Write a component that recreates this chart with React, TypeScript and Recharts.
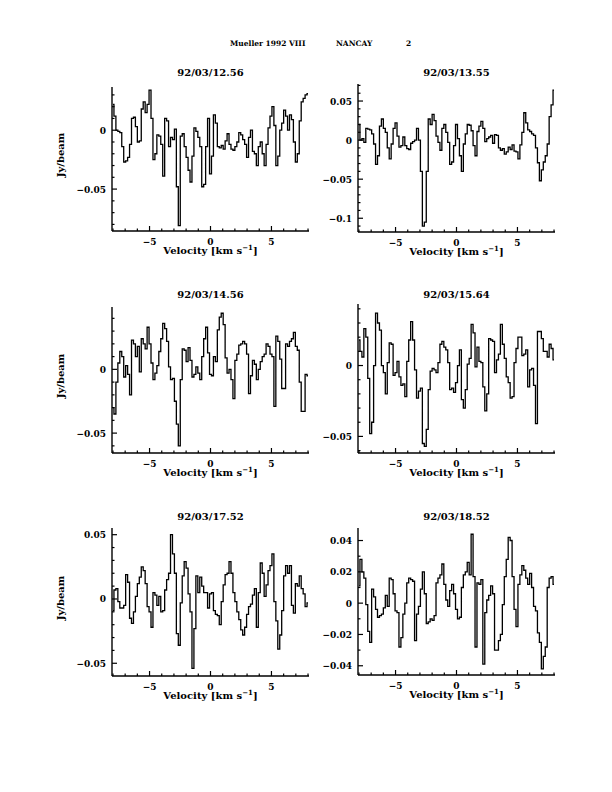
import { LineChart, Line, XAxis, YAxis } from 'recharts';

// channel velocities (km/s)
const VELOCITY = [
  -8.0, -7.84, -7.68, -7.52, -7.36, -7.2, -7.04, -6.88, -6.72, -6.56,
  -6.4, -6.24, -6.08, -5.92, -5.76, -5.6, -5.44, -5.28, -5.12, -4.96,
  -4.8, -4.64, -4.48, -4.32, -4.16, -4.0, -3.84, -3.68, -3.52, -3.36,
  -3.2, -3.04, -2.88, -2.72, -2.56, -2.4, -2.24, -2.08, -1.92, -1.76,
  -1.6, -1.44, -1.28, -1.12, -0.96, -0.8, -0.64, -0.48, -0.32, -0.16,
  0.0, 0.16, 0.32, 0.48, 0.64, 0.8, 0.96, 1.12, 1.28, 1.44,
  1.6, 1.76, 1.92, 2.08, 2.24, 2.4, 2.56, 2.72, 2.88, 3.04,
  3.2, 3.36, 3.52, 3.68, 3.84, 4.0, 4.16, 4.32, 4.48, 4.64,
  4.8, 4.96, 5.12, 5.28, 5.44, 5.6, 5.76, 5.92, 6.08, 6.24,
  6.4, 6.56, 6.72, 6.88, 7.04, 7.2, 7.36, 7.52, 7.68, 7.84,
  8.0,
];

// Jy/beam per channel, one array per date
const flux1256 = [
  0.022, 0.012, 0.0, -0.001, -0.002, -0.014, -0.027, -0.026, -0.023, -0.012,
  0.01, 0.011, 0.003, -0.01, -0.009, 0.018, 0.024, 0.015, 0.022, 0.034,
  0.01, -0.025, -0.02, -0.004, -0.005, -0.012, -0.039, 0.01, 0.008, -0.014,
  -0.006, -0.008, 0.001, -0.048, -0.081, -0.005, -0.003, -0.014, -0.023, -0.034,
  -0.044, -0.022, 0.002, -0.001, -0.006, -0.014, -0.048, -0.046, -0.014, 0.01,
  -0.037, -0.022, 0.013, 0.006, -0.014, -0.015, -0.013, -0.016, -0.009, -0.003,
  -0.012, -0.016, -0.017, -0.014, -0.01, -0.002, -0.004, -0.008, -0.012, -0.023,
  -0.006, 0.0, -0.018, -0.02, -0.03, -0.014, -0.01, -0.02, -0.03, -0.012,
  0.002, 0.012, 0.02, 0.004, -0.03, -0.022, 0.0, 0.006, 0.017, 0.012,
  0.0, 0.013, 0.009, -0.01, -0.027, -0.02, 0.008, 0.024, 0.027, 0.03,
  0.031,
];

const flux1355 = [
  0.02, 0.0, 0.002, -0.003, 0.015, 0.014, 0.013, 0.008, -0.005, -0.031,
  -0.02, 0.018, 0.027, 0.015, 0.01, -0.01, -0.024, -0.005, 0.015, 0.022,
  0.005, -0.009, -0.007, 0.004, -0.007, -0.011, -0.012, -0.004, -0.002, 0.0,
  0.015, 0.0, -0.04, -0.11, -0.105, -0.04, 0.027, 0.02, 0.033, 0.025,
  0.005, -0.003, -0.013, 0.015, 0.02, 0.01, -0.003, -0.031, -0.028, -0.007,
  0.02, 0.002, -0.02, -0.04, -0.005, 0.008, 0.02, 0.019, 0.012, -0.007,
  -0.02, 0.011, 0.018, 0.024, 0.015, -0.002, 0.002, 0.004, 0.006, -0.004,
  0.007, 0.006, -0.01, -0.013, -0.011, -0.018, -0.015, -0.009, -0.012, -0.006,
  -0.014, -0.015, -0.024, -0.006, 0.01, 0.035, 0.022, 0.013, 0.011, 0.008,
  0.006, -0.01, -0.029, -0.052, -0.038, -0.028, -0.02, -0.005, 0.03, 0.045,
  0.064,
];

const flux1456 = [
  -0.03, -0.035, -0.01, 0.005, 0.014, 0.01, -0.006, 0.003, -0.004, -0.02,
  0.023, 0.02, 0.01, 0.018, -0.002, 0.024, 0.02, 0.016, 0.033, 0.02,
  0.005, -0.008, -0.003, 0.003, 0.014, 0.024, 0.036, 0.032, 0.022, 0.002,
  -0.008, -0.007, -0.025, -0.043, -0.06, -0.008, 0.016, 0.015, 0.006, 0.017,
  0.007, -0.006, -0.004, 0.002, -0.003, -0.008, 0.01, 0.024, 0.033, 0.013,
  -0.004, -0.005, 0.01, 0.006, 0.031, 0.041, 0.044, 0.035, 0.009, -0.003,
  0.0, -0.008, -0.023, 0.007, 0.012, 0.019, 0.02, 0.022, 0.02, 0.012,
  -0.019, -0.005, 0.007, 0.004, -0.008, 0.0, 0.006, 0.01, 0.012, 0.02,
  0.018, 0.012, 0.01, -0.029, 0.026, 0.022, 0.008, -0.015, -0.015, 0.02,
  0.018, 0.022, 0.024, 0.029, 0.018, 0.015, -0.01, -0.033, -0.033, -0.004,
  -0.005,
];

const flux1564 = [
  0.018, 0.01, 0.006, 0.026, 0.02, -0.009, -0.048, -0.04, 0.0, 0.037,
  0.03, 0.025, 0.0, -0.005, -0.02, 0.002, 0.016, 0.015, -0.007, -0.005,
  0.003, -0.008, -0.014, -0.013, -0.022, 0.003, 0.018, 0.031, 0.018, -0.003,
  -0.023, -0.018, -0.016, -0.055, -0.057, -0.045, -0.017, -0.004, -0.002, -0.003,
  -0.005, 0.002, 0.015, 0.017, 0.013, 0.011, 0.002, -0.017, -0.016, -0.019,
  -0.012, 0.0, 0.011, -0.024, -0.03, -0.017, 0.001, 0.005, 0.029, 0.023,
  -0.001, 0.013, 0.003, 0.002, -0.015, -0.032, -0.02, 0.019, 0.018, 0.017,
  -0.005, 0.004, 0.008, 0.029, 0.015, 0.005, -0.008, -0.012, -0.023, -0.022,
  0.002, 0.012, 0.02, 0.02, 0.007, 0.008, 0.011, -0.015, -0.003, -0.002,
  -0.014, -0.041, 0.024, 0.024, 0.019, 0.01, 0.01, 0.006, 0.015, 0.012,
  0.004,
];

const flux1752 = [
  -0.009, 0.007, 0.008, -0.002, -0.007, -0.007, -0.005, 0.019, 0.013, -0.015,
  -0.019, -0.01, 0.002, 0.012, 0.017, 0.025, 0.022, 0.012, -0.006, -0.01,
  -0.022, 0.005, 0.003, -0.005, 0.002, -0.01, -0.009, 0.007, 0.015, 0.02,
  0.05, 0.035, 0.02, -0.027, -0.036, -0.003, 0.018, 0.029, 0.024, 0.004,
  -0.01, -0.054, -0.023, 0.018, 0.005, 0.017, 0.01, 0.005, 0.005, -0.007,
  0.004, 0.005, -0.009, -0.012, -0.013, -0.02, -0.002, 0.011, 0.019, 0.02,
  0.029, 0.02, 0.005, -0.002, -0.01, -0.016, -0.024, -0.028, -0.022, -0.012,
  -0.006, -0.004, 0.003, 0.008, -0.022, 0.005, 0.028, 0.02, 0.002, 0.011,
  0.022, 0.026, 0.035, -0.002, -0.017, -0.039, -0.028, -0.009, 0.018, 0.026,
  0.02, 0.026, -0.005, -0.011, 0.012, 0.01, 0.018, 0.008, 0.004, -0.006,
  -0.003,
];

const flux1852 = [
  0.011, 0.028, 0.02, 0.016, -0.001, -0.018, -0.025, 0.009, 0.004, -0.004,
  -0.009, -0.008, -0.007, -0.003, 0.005, -0.002, 0.016, 0.015, 0.006, -0.005,
  -0.006, -0.028, -0.022, -0.007, 0.0, 0.013, 0.016, 0.015, 0.014, -0.024,
  -0.007, -0.002, 0.009, 0.02, 0.006, -0.013, -0.012, -0.01, -0.011, -0.008,
  0.013, 0.016, 0.018, 0.025, 0.012, 0.002, -0.002, 0.008, 0.012, 0.006,
  -0.004, -0.01, -0.009, 0.01, 0.018, 0.02, 0.026, 0.018, 0.044, 0.017,
  -0.028, 0.013, 0.012, 0.015, -0.039, -0.006, 0.002, 0.005, 0.011, 0.006,
  -0.03, -0.03, -0.024, -0.02, -0.001, 0.017, 0.028, 0.042, 0.04, 0.017,
  -0.004, -0.015, 0.012, 0.018, 0.024, 0.021, 0.016, 0.012, 0.019, 0.01,
  -0.002, -0.005, -0.019, -0.025, -0.042, -0.034, -0.028, 0.01, 0.016, 0.017,
  0.012,
];

const X_TICKS = [-8, -7, -6, -5, -4, -3, -2, -1, 0, 1, 2, 3, 4, 5, 6, 7, 8];
const X_MAJOR = [-5, 0, 5];

const ticksA = [-0.08, -0.07, -0.06, -0.05, -0.04, -0.03, -0.02, -0.01, 0, 0.01, 0.02, 0.03];
const ticksB = [-0.11, -0.1, -0.09, -0.08, -0.07, -0.06, -0.05, -0.04, -0.03, -0.02, -0.01, 0, 0.01, 0.02, 0.03, 0.04, 0.05, 0.06, 0.07];
const ticksC = [-0.06, -0.05, -0.04, -0.03, -0.02, -0.01, 0, 0.01, 0.02, 0.03, 0.04];
const ticksE = [-0.05, -0.04, -0.03, -0.02, -0.01, 0, 0.01, 0.02, 0.03, 0.04, 0.05];
const ticksF = [-0.04, -0.03, -0.02, -0.01, 0, 0.01, 0.02, 0.03, 0.04];

const FONT = '"DejaVu Serif", serif';
const X_DOMAIN = [-8.08, 8.08];
const PLOT_W = 197;

const panels = [
  { title: '92/03/12.56', flux: flux1256, domain: [-0.0856, 0.0367], ticks: ticksA, major: [-0.05, 0], left: 112, top: 87, height: 144, titleY: 73, yLabel: true },
  { title: '92/03/13.55', flux: flux1355, domain: [-0.1176, 0.0718], ticks: ticksB, major: [-0.1, -0.05, 0, 0.05], left: 358, top: 84, height: 148, titleY: 73, yLabel: false },
  { title: '92/03/14.56', flux: flux1456, domain: [-0.0656, 0.0489], ticks: ticksC, major: [-0.05, 0], left: 112, top: 307, height: 146, titleY: 295, yLabel: true },
  { title: '92/03/15.64', flux: flux1564, domain: [-0.0617, 0.0434], ticks: ticksC, major: [-0.05, 0], left: 358, top: 304, height: 149, titleY: 295, yLabel: false },
  { title: '92/03/17.52', flux: flux1752, domain: [-0.0599, 0.0552], ticks: ticksE, major: [-0.05, 0, 0.05], left: 112, top: 528, height: 148, titleY: 517, yLabel: true },
  { title: '92/03/18.52', flux: flux1852, domain: [-0.0459, 0.048], ticks: ticksF, major: [-0.04, -0.02, 0, 0.02, 0.04], left: 358, top: 528, height: 147, titleY: 517, yLabel: false },
];

const isMajor = (v: number, majors: number[]) => majors.some((m) => Math.abs(m - v) < 1e-6);

const fmt = (v: number) => {
  if (Math.abs(v) < 1e-9) return '0';
  return String(Math.round(v * 1000) / 1000).replace('-', '\u2212');
};

const textStyle = { fontFamily: FONT, fontWeight: 'bold' as const };

// PGPLOT-style ticks: drawn inward on all four sides, labels only on bottom/left majors
const makeTick = (side: 'bottom' | 'top' | 'left' | 'right', majors: number[]) => (p: any) => {
  const v = p.payload.value;
  const len = isMajor(v, majors) ? 5 : 2.5;
  const { x, y } = p;
  let line;
  if (side === 'bottom') line = <line x1={x} x2={x} y1={y} y2={y - len} />;
  else if (side === 'top') line = <line x1={x} x2={x} y1={y} y2={y + len} />;
  else if (side === 'left') line = <line x1={x} x2={x + len} y1={y} y2={y} />;
  else line = <line x1={x} x2={x - len} y1={y} y2={y} />;
  return (
    <g stroke="#000" strokeWidth={1.2}>
      {line}
      {side === 'bottom' && isMajor(v, majors) && (
        <text x={x} y={y + 13.5} textAnchor="middle" fontSize={9} stroke="none" fill="#000" style={textStyle}>
          {fmt(v)}
        </text>
      )}
      {side === 'left' && isMajor(v, majors) && (
        <text x={x - 6} y={y + 3.5} textAnchor="end" fontSize={9} stroke="none" fill="#000" style={textStyle}>
          {fmt(v)}
        </text>
      )}
    </g>
  );
};

const velocityLabel = (props: any) => {
  const vb = props.viewBox;
  return (
    <text x={vb.x + vb.width / 2} y={vb.y + 23} textAnchor="middle" fontSize={10} fill="#000" style={textStyle}>
      Velocity [km s
      <tspan dy={-4} fontSize={7}>−1</tspan>
      <tspan dy={4}>]</tspan>
    </text>
  );
};

const fluxLabel = (props: any) => {
  const vb = props.viewBox;
  const cx = vb.x - 2;
  const cy = vb.y + vb.height / 2 - 4;
  return (
    <text x={cx} y={cy} transform={`rotate(-90 ${cx} ${cy})`} textAnchor="middle" dominantBaseline="central" fontSize={10} fill="#000" style={textStyle}>
      Jy/beam
    </text>
  );
};

const axisLine = { stroke: '#000', strokeWidth: 1.4 };

function Panel({ cfg }: { cfg: (typeof panels)[number] }) {
  const data = VELOCITY.map((v, i) => ({ v, flux: cfg.flux[i] }));
  const ML = 10;
  const YW = 50;
  const MR = 15;
  const MT = 30;
  const XH = 40;
  return (
    <>
      <div
        style={{
          position: 'absolute',
          left: cfg.left,
          width: PLOT_W,
          top: cfg.titleY - 6,
          textAlign: 'center',
          fontFamily: FONT,
          fontWeight: 'bold',
          fontSize: 10,
          lineHeight: '12px',
        }}
      >
        {cfg.title}
      </div>
      <div style={{ position: 'absolute', left: cfg.left - ML - YW, top: cfg.top - MT }}>
        <LineChart
          width={ML + YW + PLOT_W + MR}
          height={MT + cfg.height + XH}
          data={data}
          margin={{ top: MT, right: MR, bottom: 0, left: ML }}
        >
          <XAxis
            xAxisId="bottom"
            dataKey="v"
            type="number"
            domain={X_DOMAIN}
            ticks={X_TICKS}
            interval={0}
            allowDataOverflow
            height={XH}
            tickSize={0}
            tickMargin={0}
            tickLine={false}
            axisLine={axisLine}
            tick={makeTick('bottom', X_MAJOR)}
            label={{ content: velocityLabel }}
          />
          <XAxis
            xAxisId="top"
            orientation="top"
            dataKey="v"
            type="number"
            domain={X_DOMAIN}
            ticks={X_TICKS}
            interval={0}
            allowDataOverflow
            height={0}
            tickSize={0}
            tickMargin={0}
            tickLine={false}
            axisLine={axisLine}
            tick={makeTick('top', X_MAJOR)}
          />
          <YAxis
            yAxisId="left"
            dataKey="flux"
            type="number"
            domain={cfg.domain}
            ticks={cfg.ticks}
            interval={0}
            allowDataOverflow
            width={YW}
            tickSize={0}
            tickMargin={0}
            tickLine={false}
            axisLine={axisLine}
            tick={makeTick('left', cfg.major)}
            label={cfg.yLabel ? { content: fluxLabel } : undefined}
          />
          <YAxis
            yAxisId="right"
            orientation="right"
            dataKey="flux"
            type="number"
            domain={cfg.domain}
            ticks={cfg.ticks}
            interval={0}
            allowDataOverflow
            width={0}
            tickSize={0}
            tickMargin={0}
            tickLine={false}
            axisLine={axisLine}
            tick={makeTick('right', cfg.major)}
          />
          <Line
            xAxisId="bottom"
            yAxisId="left"
            dataKey="flux"
            type="step"
            stroke="#000"
            strokeWidth={1.3}
            dot={false}
            isAnimationActive={false}
          />
        </LineChart>
      </div>
    </>
  );
}

export default function App() {
  const headStyle = {
    position: 'absolute' as const,
    top: 39,
    fontFamily: FONT,
    fontWeight: 'bold' as const,
    fontSize: 7.5,
    lineHeight: '10px',
    whiteSpace: 'nowrap' as const,
  };
  return (
    <div style={{ position: 'absolute', left: 0, top: 0, width: 612, height: 792, background: '#fff' }}>
      <div style={{ ...headStyle, left: 230 }}>Mueller 1992 VIII</div>
      <div style={{ ...headStyle, left: 336 }}>NANCAY</div>
      <div style={{ ...headStyle, left: 406 }}>2</div>
      {panels.map((p) => (
        <Panel key={p.title} cfg={p} />
      ))}
    </div>
  );
}
